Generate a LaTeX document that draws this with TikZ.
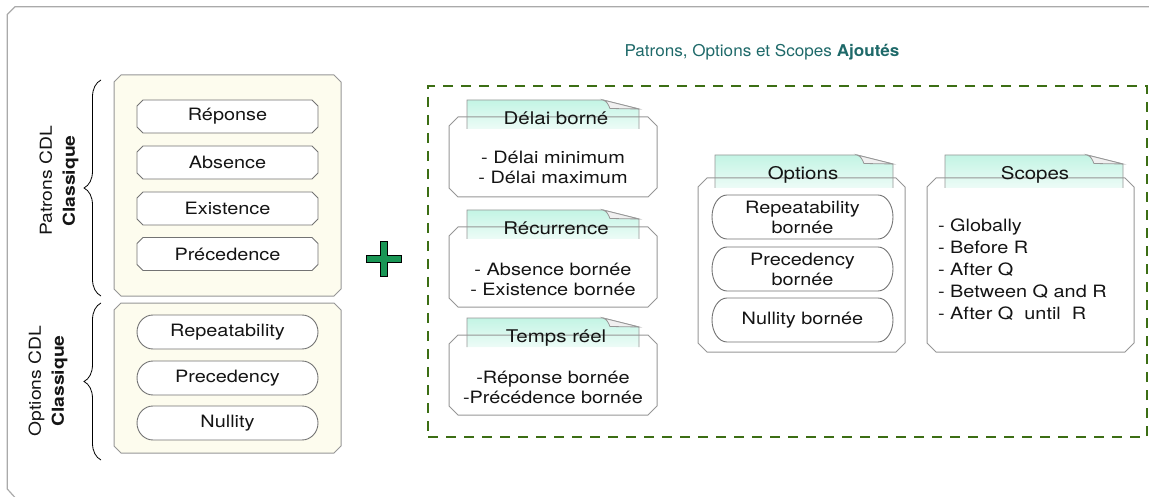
\documentclass[tikz,border=0pt]{standalone}
\usepackage{fontspec}
\setmainfont[FakeStretch=1.17]{TeX Gyre Heros}
\newfontfamily\headfont[FakeStretch=1.05]{TeX Gyre Heros}
\usetikzlibrary{calc,decorations.pathreplacing}
\pgfdeclarelayer{back}
\pgfdeclarelayer{mid}
\pgfsetlayers{back,mid,main}

\definecolor{frameGray}{RGB}{170,170,170}
\definecolor{boxGray}{RGB}{150,150,150}
\definecolor{itemGray}{RGB}{115,115,115}
\definecolor{cream}{RGB}{253,252,238}
\definecolor{addGreen}{RGB}{60,110,20}
\definecolor{plusGreen}{RGB}{25,150,85}
\definecolor{titleTeal}{RGB}{30,105,105}
\definecolor{tabMint}{RGB}{195,244,228}
\definecolor{flapGray}{RGB}{240,240,240}
\definecolor{inkBlack}{RGB}{20,20,20}

% chamfered outline around a named node: #1 node, #2 chamfer, #3 path options
\newcommand\chamferaround[3]{%
  \path[#3] ($(#1.north west)+(#2,0)$) -- ($(#1.north east)+(-#2,0)$)
    -- ($(#1.north east)+(0,#2)$) -- ($(#1.south east)+(0,-#2)$)
    -- ($(#1.south east)+(-#2,0)$) -- ($(#1.south west)+(#2,0)$)
    -- ($(#1.south west)+(0,-#2)$) -- ($(#1.north west)+(0,#2)$) -- cycle;}

% pill outline: #1 node, #2 end x-radius, #3 half height, #4 path options
\newcommand\pillaround[4]{%
  \path[#4] ($(#1.north west)+(#2,0)$) -- ($(#1.north east)+(-#2,0)$)
    arc[start angle=90, end angle=-90, x radius=#2pt, y radius=#3pt]
    -- ($(#1.south west)+(#2,0)$)
    arc[start angle=270, end angle=90, x radius=#2pt, y radius=#3pt] -- cycle;}

% note tab with a folded corner: shading, then outline
\newcommand\tabshade[1]{%
  \shade[top color=tabMint, bottom color=tabMint!30!white]
    (#1.south west) -- (#1.north west) -- ($(#1.north east)+(-36,0)$)
    -- ($(#1.north east)+(0,9)$) -- (#1.south east) -- cycle;}
\newcommand\taboutline[1]{%
  \draw[boxGray, line width=0.9pt]
    (#1.south west) -- (#1.north west) -- ($(#1.north east)+(-36,0)$)
    -- ($(#1.north east)+(0,9)$) -- (#1.south east);
  \filldraw[fill=flapGray, draw=boxGray, line width=0.8pt]
    ($(#1.north east)+(-36,0)$) .. controls ($(#1.north east)+(-32,2)$) .. ($(#1.north east)+(-29,8.5)$)
    -- ($(#1.north east)+(0,9)$) -- cycle;}

\begin{document}
\begin{tikzpicture}[x=1pt,y=-1pt,
  every node/.style={inner sep=0pt, outer sep=0pt, text=inkBlack,
    font=\fontsize{17}{20}\selectfont},
  slot/.style={rectangle, align=center},
  tabname/.style={anchor=base, font=\fontsize{17.5}{20}\selectfont},
  boxline/.style={draw=boxGray, line width=1pt},
  itemline/.style={draw=itemGray, line width=0.9pt, fill=white},
  sidelabel/.style={rotate=90, align=center, font=\fontsize{16.5}{23}\selectfont},
  bracestyle/.style={decorate, decoration={brace, amplitude=17pt}, line width=0.8pt, black}]

\useasboundingbox (0,0) rectangle (1149,497);

% outer frame, open to the right and below
\draw[frameGray, line width=1.2pt] (1160,6.7) -- (15,6.7) -- (7.3,14.5) -- (7.3,489) -- (15,497.5);

% ---------- classic CDL patterns ----------
\node[slot, minimum width=227pt, minimum height=221pt] (patronsBox) at (227.5,185.5) {};
\node[slot, minimum width=181pt, minimum height=33pt] (reponse) at (227.5,116.5) {Réponse};
\node[slot, minimum width=181pt, minimum height=33pt] (absence) at (227.5,162.5) {Absence};
\node[slot, minimum width=181pt, minimum height=33pt] (existence) at (227.5,208.5) {Existence};
\node[slot, minimum width=181pt, minimum height=33pt] (precedence) at (227.5,254) {Précedence};

% ---------- classic CDL options ----------
\node[slot, minimum width=227pt, minimum height=150pt] (optionsBox) at (227.5,378) {};
\node[slot, minimum width=181pt, minimum height=34pt] (repeat) at (227.5,332) {Repeatability};
\node[slot, minimum width=181pt, minimum height=34pt] (precedency) at (227.5,378) {Precedency};
\node[slot, minimum width=181pt, minimum height=34pt] (nullity) at (227.5,423) {Nullity};

\begin{pgfonlayer}{back}
  \chamferaround{patronsBox}{7}{boxline, fill=cream}
  \chamferaround{optionsBox}{7}{boxline, fill=cream}
\end{pgfonlayer}
\begin{pgfonlayer}{mid}
  \chamferaround{reponse}{6}{itemline}
  \chamferaround{absence}{6}{itemline}
  \chamferaround{existence}{6}{itemline}
  \chamferaround{precedence}{6}{itemline}
  \pillaround{repeat}{16}{17}{itemline}
  \pillaround{precedency}{16}{17}{itemline}
  \pillaround{nullity}{16}{17}{itemline}
\end{pgfonlayer}

% side labels with braces
\node[sidelabel] (patronsLabel) at (59,181) {Patrons CDL\\\textbf{Classique}};
\node[sidelabel] (optionsLabel) at (48,381) {Options CDL\\\textbf{Classique}};
\coordinate (braceAtop) at (101,80);
\coordinate (braceAbot) at (101,296);
\coordinate (braceBtop) at (101,303);
\coordinate (braceBbot) at (101,460);
\draw[bracestyle] (braceAbot) -- (braceAtop);
\draw[bracestyle] (braceBbot) -- (braceBtop);

% plus sign
\coordinate (plus) at (384,259);
\filldraw[fill=plusGreen, draw=black, line width=0.8pt, shift={(plus)}]
  (-17.5,-3.5) -- (-3.5,-3.5) -- (-3.5,-17.5) -- (3.5,-17.5) -- (3.5,-3.5)
  -- (17.5,-3.5) -- (17.5,3.5) -- (3.5,3.5) -- (3.5,17.5) -- (-3.5,17.5)
  -- (-3.5,3.5) -- (-17.5,3.5) -- cycle;

% ---------- added patterns, options and scopes ----------
\node[font=\headfont\fontsize{16.3}{20}\selectfont, text=titleTeal] (addTitle) at (762,52)
  {Patrons, Options et Scopes \textbf{Ajoutés}};
\node[draw=addGreen, line width=2.4pt, dash pattern=on 10pt off 8pt,
  minimum width=719pt, minimum height=351pt] (addedArea) at (787.5,261.5) {};

% bounded patterns cards
\node[slot, minimum width=208pt, minimum height=80pt] (delaiCard) at (553,157) {};
\node[slot, minimum width=172pt, minimum height=29pt] (delaiTab) at (553,114.5) {};
\node[tabname] (delaiName) at (556,124.3) {Délai borné};
\node[align=center] (delaiText) at (553,167.5) {- Délai minimum\\- Délai maximum};

\node[slot, minimum width=208pt, minimum height=80pt] (recCard) at (553,267) {};
\node[slot, minimum width=172pt, minimum height=29pt] (recTab) at (553,224.5) {};
\node[tabname] (recName) at (556,234.3) {Récurrence};
\node[align=center] (recText) at (553,279.5) {- Absence bornée\\- Existence bornée};

\node[slot, minimum width=208pt, minimum height=80pt] (tempsCard) at (553,375) {};
\node[slot, minimum width=172pt, minimum height=29pt] (tempsTab) at (553,332.5) {};
\node[tabname] (tempsName) at (556,342.3) {Temps réel};
\node[align=center] (tempsText) at (553,387) {-Réponse bornée\\-Précédence bornée};

% options card
\node[slot, minimum width=207pt, minimum height=174pt] (optCard) at (801.5,265) {};
\node[slot, minimum width=178pt, minimum height=33pt] (optTab) at (804,171.5) {};
\node[tabname] (optName) at (803,180) {Options};
\node[slot, minimum width=181pt, minimum height=44pt] (repB) at (802.5,217) {Repeatability\\bornée};
\node[slot, minimum width=181pt, minimum height=44pt] (precB) at (802.5,269) {Precedency\\bornée};
\node[slot, minimum width=181pt, minimum height=44pt] (nullB) at (802.5,320) {Nullity bornée};

% scopes card
\node[slot, minimum width=207pt, minimum height=174pt] (scopeCard) at (1030.5,265) {};
\node[slot, minimum width=178pt, minimum height=33pt] (scopeTab) at (1034,171.5) {};
\node[tabname] (scopeName) at (1035,180) {Scopes};
\node[anchor=west, align=left, font=\fontsize{17}{22}\selectfont] (scopeList) at (938,269.5)
  {- Globally\\- Before R\\- After Q\\- Between Q and R\\- After Q\ \ until\ \ R};

\begin{pgfonlayer}{back}
  \tabshade{delaiTab}
  \tabshade{recTab}
  \tabshade{tempsTab}
  \tabshade{optTab}
  \tabshade{scopeTab}
\end{pgfonlayer}
\begin{pgfonlayer}{mid}
  \chamferaround{delaiCard}{9}{boxline}
  \chamferaround{recCard}{9}{boxline}
  \chamferaround{tempsCard}{9}{boxline}
  \chamferaround{optCard}{9}{boxline}
  \chamferaround{scopeCard}{9}{boxline}
  \taboutline{delaiTab}
  \taboutline{recTab}
  \taboutline{tempsTab}
  \taboutline{optTab}
  \taboutline{scopeTab}
  \pillaround{repB}{15}{22}{itemline}
  \pillaround{precB}{15}{22}{itemline}
  \pillaround{nullB}{15}{22}{itemline}
\end{pgfonlayer}
\end{tikzpicture}
\end{document}
